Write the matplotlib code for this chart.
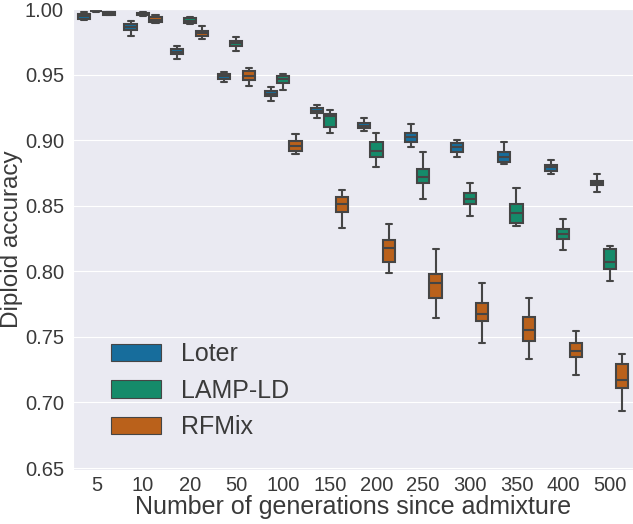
import numpy as np
import matplotlib
matplotlib.use("Agg")
import matplotlib.pyplot as plt
import seaborn as sns
from matplotlib.patches import Patch

sns.set_style("darkgrid")
plt.rcParams['font.family'] = ['Liberation Sans', 'DejaVu Sans']

generations = ["5", "10", "20", "50", "100", "150", "200", "250", "300", "350", "400", "500"]
methods = ["Loter", "LAMP-LD", "RFMix"]

# per method: lower whisker, q1, median, q3, upper whisker
loter_lo  = [0.9920, 0.9796, 0.9619, 0.9441, 0.9296, 0.9171, 0.9069, 0.8945, 0.8873, 0.8815, 0.8739, 0.8604]
loter_q1  = [0.9924, 0.9840, 0.9654, 0.9468, 0.9334, 0.9204, 0.9090, 0.8988, 0.8912, 0.8835, 0.8767, 0.8655]
loter_med = [0.9943, 0.9863, 0.9674, 0.9489, 0.9355, 0.9223, 0.9111, 0.9021, 0.8945, 0.8873, 0.8792, 0.8673]
loter_q3  = [0.9962, 0.9886, 0.9693, 0.9507, 0.9377, 0.9243, 0.9133, 0.9052, 0.8976, 0.8907, 0.8812, 0.8688]
loter_hi  = [0.9977, 0.9910, 0.9718, 0.9522, 0.9403, 0.9270, 0.9166, 0.9120, 0.9003, 0.8983, 0.8851, 0.8739]

lamp_lo  = [0.9980, 0.9950, 0.9886, 0.9682, 0.9382, 0.9055, 0.8793, 0.8553, 0.8421, 0.8345, 0.8164, 0.7925]
lamp_q1  = [0.9982, 0.9952, 0.9896, 0.9720, 0.9433, 0.9102, 0.8873, 0.8670, 0.8515, 0.8365, 0.8246, 0.8017]
lamp_med = [0.9985, 0.9962, 0.9912, 0.9740, 0.9466, 0.9186, 0.8917, 0.8721, 0.8553, 0.8442, 0.8286, 0.8068]
lamp_q3  = [0.9988, 0.9972, 0.9929, 0.9758, 0.9491, 0.9197, 0.8983, 0.8777, 0.8594, 0.8510, 0.8322, 0.8169]
lamp_hi  = [0.9990, 0.9976, 0.9941, 0.9784, 0.9502, 0.9233, 0.9056, 0.8912, 0.8675, 0.8637, 0.8398, 0.8195]

rf_lo  = [0.9955, 0.9890, 0.9770, 0.9413, 0.8892, 0.8327, 0.7989, 0.7643, 0.7452, 0.7330, 0.7206, 0.6934]
rf_q1  = [0.9957, 0.9899, 0.9796, 0.9458, 0.8917, 0.8449, 0.8073, 0.7798, 0.7622, 0.7470, 0.7346, 0.7107]
rf_med = [0.9967, 0.9916, 0.9817, 0.9493, 0.8955, 0.8510, 0.8175, 0.7912, 0.7674, 0.7551, 0.7391, 0.7175]
rf_q3  = [0.9975, 0.9937, 0.9834, 0.9527, 0.8993, 0.8564, 0.8236, 0.7981, 0.7755, 0.7653, 0.7450, 0.7290]
rf_hi  = [0.9980, 0.9954, 0.9870, 0.9552, 0.9049, 0.8617, 0.8362, 0.8169, 0.7910, 0.7798, 0.7544, 0.7366]

series = [
    (loter_lo, loter_q1, loter_med, loter_q3, loter_hi),
    (lamp_lo, lamp_q1, lamp_med, lamp_q3, lamp_hi),
    (rf_lo, rf_q1, rf_med, rf_q3, rf_hi),
]

pal = sns.color_palette("colorblind")
colors = [sns.desaturate(pal[i], 0.75) for i in (0, 2, 3)]
gray = "#454545"
txt = "#3a3a3a"

fig = plt.figure(figsize=(6.33, 5.24), dpi=100)
ax = fig.add_axes([0.1153, 0.103, 0.885, 0.8798])

x = np.arange(len(generations))
w = 0.8 / 3
for j, (lo, q1, med, q3, hi) in enumerate(series):
    stats = [dict(whislo=lo[i], q1=q1[i], med=med[i], q3=q3[i], whishi=hi[i], fliers=[])
             for i in range(len(generations))]
    ax.bxp(stats, positions=x + (j - 1) * w, widths=w * 0.98, patch_artist=True,
           showfliers=False, manage_ticks=False,
           boxprops=dict(facecolor=colors[j], edgecolor=gray, linewidth=1.5),
           medianprops=dict(color=gray, linewidth=1.5),
           whiskerprops=dict(color=gray, linewidth=1.5),
           capprops=dict(color=gray, linewidth=1.5))

ax.set_xlim(-0.5, 11.5)
ax.set_ylim(0.6485, 1.0)
ax.set_xticks(x)
ax.set_xticklabels(generations)
ax.set_yticks(np.arange(0.65, 1.001, 0.05))
ax.set_yticklabels(["%.2f" % v for v in np.arange(0.65, 1.001, 0.05)])
ax.xaxis.grid(False)
ax.tick_params(labelsize=14.5, colors=txt)
ax.tick_params(axis="x", pad=1)
ax.tick_params(axis="y", pad=3)
ax.set_xlabel("Number of generations since admixture", fontsize=18, color=txt, labelpad=0)
ax.set_ylabel("Diploid accuracy", fontsize=17.5, color=txt, labelpad=1)

handles = [Patch(facecolor=c, edgecolor=gray, linewidth=0.8) for c in colors]
leg = ax.legend(handles, methods, loc="lower left", bbox_to_anchor=(0.028, 0.018),
                frameon=False, fontsize=18)
for t in leg.get_texts():
    t.set_color(txt)

fig.savefig("out.png", dpi=100)
